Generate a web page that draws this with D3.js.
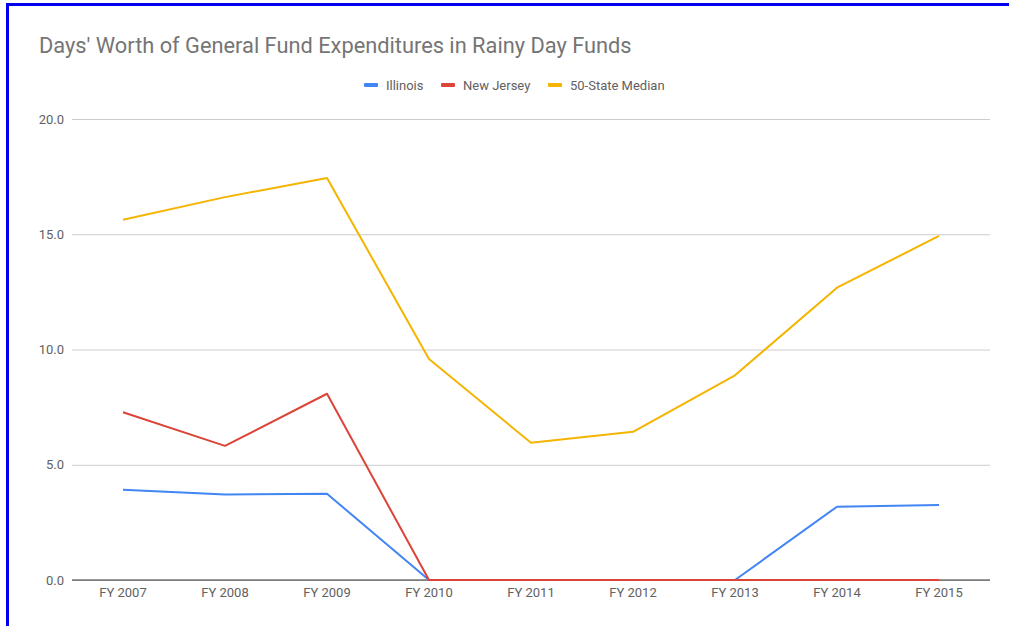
<!DOCTYPE html>
<html><head><meta charset="utf-8">
<script src="https://cdn.jsdelivr.net/npm/d3@7"></script>
<style>
html,body{margin:0;padding:0;background:#fff;overflow:hidden;}
svg{display:block;font-family:Roboto,"Noto Sans",Arial,sans-serif;}
</style></head>
<body>
<svg id="chart" width="1009" height="626"></svg>
<script>
const categories = ["FY 2007","FY 2008","FY 2009","FY 2010","FY 2011","FY 2012","FY 2013","FY 2014","FY 2015"];
const illinois = [3.92, 3.71, 3.74, 0, 0, 0, 0, 3.18, 3.25];
const newJersey = [7.28, 5.82, 8.08, 0, 0, 0, 0, 0, 0];
const median = [15.63, 16.61, 17.44, 9.59, 5.95, 6.43, 8.88, 12.68, 14.93];
const yTicks = [0, 5, 10, 15, 20];
const seriesNames = ["Illinois", "New Jersey", "50-State Median"];
const colors = ["#4285F4", "#DB4437", "#F4B400"];
const title = "Days' Worth of General Fund Expenditures in Rainy Day Funds";

const svg = d3.select("#chart");
const W = 1009, H = 626;
const m = {left: 72, right: 990, top: 119, bottom: 580};

// frame
svg.append("rect").attr("x", 7.5).attr("y", 4.5).attr("width", W + 20).attr("height", H + 20)
  .attr("fill", "none").attr("stroke", "#0000ee").attr("stroke-width", 3);

const x = d3.scaleBand().domain(categories).range([m.left, m.right]);
const y = d3.scaleLinear().domain([0, 20]).range([m.bottom, m.top]);

svg.append("text").attr("x", 39).attr("y", 53).attr("font-size", 21.8).attr("fill", "#757575").text(title);

// gridlines
const yAxis = d3.axisLeft(y).tickValues(yTicks).tickFormat(d3.format(".1f")).tickSize(-(m.right - m.left)).tickPadding(8);
const gy = svg.append("g").attr("transform", `translate(${m.left},0)`).call(yAxis);
gy.select(".domain").remove();
gy.selectAll(".tick line").attr("stroke", "#cccccc").attr("stroke-width", 1);
gy.selectAll(".tick text").attr("font-size", 13).attr("fill", "#616161").attr("font-family", "Roboto, sans-serif");

const xAxis = d3.axisBottom(x).tickSize(0).tickPadding(8);
const gx = svg.append("g").attr("transform", `translate(0,${m.bottom})`).call(xAxis);
gx.select(".domain").remove();
gx.selectAll(".tick text").attr("font-size", 13).attr("fill", "#616161").attr("font-family", "Roboto, sans-serif");

const line = d3.line().x((d, i) => x(categories[i]) + x.bandwidth() / 2).y(d => y(d));

// baseline
svg.append("line").attr("x1", m.left).attr("x2", m.right).attr("y1", y(0)).attr("y2", y(0))
  .attr("stroke", "#333333").attr("stroke-width", 1);

[illinois, newJersey, median].forEach((s, k) => {
  svg.append("path").datum(s).attr("d", line).attr("fill", "none")
    .attr("stroke", colors[k]).attr("stroke-width", 2).attr("stroke-linejoin", "round");
});

// legend
const legendX = [364, 441, 548];
const lg = svg.append("g");
seriesNames.forEach((n, k) => {
  lg.append("rect").attr("x", legendX[k]).attr("y", 83).attr("width", 14).attr("height", 4).attr("rx", 1).attr("fill", colors[k]);
  lg.append("text").attr("x", legendX[k] + 22).attr("y", 90).attr("font-size", 13).attr("fill", "#616161").text(n);
});
</script>
</body></html>
